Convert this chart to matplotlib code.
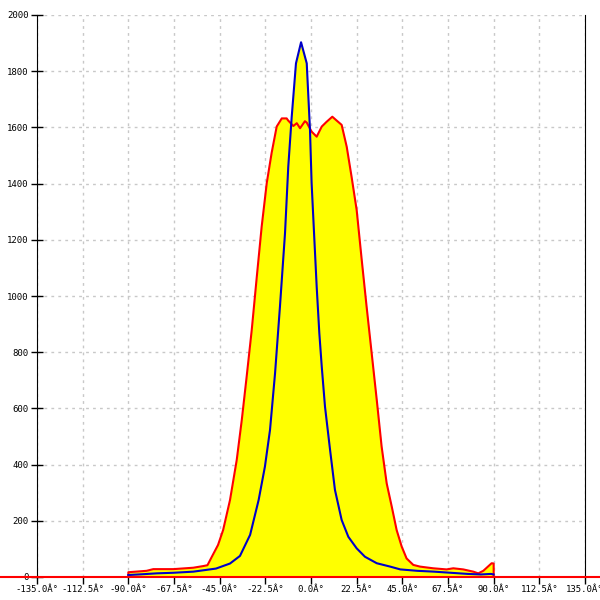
import matplotlib.pyplot as plt

# angle (deg) / count
red_x = [-90, -81, -77.7, -67.8, -58, -53, -51, -49, -45.8, -43.3, -39.9, -36.6, -34.1,
         -31.7, -29.2, -26.7, -24.3, -21.8, -19.4, -16.9, -14.4, -12, -11.3, -8.7, -7,
         -5.4, -3, -2.1, 0.3, 2.8, 5.3, 7.7, 10.5, 12.7, 15.1, 17.6, 20.0, 22.5, 25.0,
         27.4, 29.9, 32.4, 34.8, 37.3, 39.8, 42.2, 44.7, 47.1, 50.4, 53.7, 60.2, 66.8,
         70.1, 75, 80, 82.4, 84.9, 89, 90]
red_y = [17, 22, 28, 28, 33, 39, 42, 70, 114, 167, 274, 416, 559,
         713, 879, 1069, 1247, 1402, 1509, 1603, 1632, 1632, 1625, 1605, 1615,
         1597, 1622, 1617, 1585, 1567, 1603, 1620, 1638, 1624, 1609, 1531, 1424, 1306, 1128,
         962, 796, 630, 464, 333, 250, 167, 108, 66, 43, 37, 31, 27,
         31, 27, 19, 13, 22, 49, 48]

blue_x = [-90, -82.6, -76, -68, -58, -46.8, -39.9, -35, -30, -25.8, -22.7, -20.2, -17.7,
          -15.3, -12.8, -11.2, -9.5, -7.4, -4.9, -2.1, -0.5, 0.3, 1.5, 2.8, 4.1, 5.3,
          6.9, 9.4, 11.8, 15.1, 18.4, 22.5, 26.6, 32.4, 39, 44, 52.4, 60.7, 68.9,
          77.1, 83.7, 88.7, 90]
blue_y = [7, 10, 13, 15, 19, 30, 48, 75, 150, 274, 393, 523, 726,
          962, 1224, 1460, 1638, 1828, 1903, 1828, 1591, 1402, 1224, 1033, 868, 748,
          606, 452, 310, 203, 143, 102, 72, 49, 37, 27, 22, 19, 15,
          11, 9, 11, 9]

x_ticks = [-135 + 22.5 * i for i in range(13)]
x_labels = [f"{t:.1f}Â°" for t in x_ticks]
y_ticks = list(range(0, 2001, 200))

fig = plt.figure(figsize=(6, 6), dpi=100)
ax = fig.add_axes([37 / 600, 23 / 600, 548 / 600, 562 / 600])

ax.fill_between(red_x, red_y, color='#ffff00', linewidth=0, zorder=2)
ax.fill_between(blue_x, blue_y, color='#ffff00', linewidth=0, zorder=2)
# outline of the red series, closing down to the baseline at both ends
ax.plot([red_x[0]] + red_x + [red_x[-1]], [0] + red_y + [0], color='#ff0000', linewidth=1.5, zorder=3)
ax.plot(blue_x, blue_y, color='#0000c8', linewidth=1.5, zorder=4)

# red zero line running across the whole picture
ax.axhline(0, xmin=-0.08, xmax=1.05, color='#ff0000', linewidth=1.5, clip_on=False, zorder=5)

ax.set_xlim(-135, 135)
ax.set_ylim(0, 2000)
ax.set_xticks(x_ticks)
ax.set_xticklabels(x_labels)
ax.set_yticks(y_ticks)
ax.grid(True, color='#c8c8c8', linestyle=(0, (2, 3)), linewidth=1)
ax.set_axisbelow(True)

for t in ax.get_xticklabels() + ax.get_yticklabels():
    t.set_fontfamily('DejaVu Sans Mono')
    t.set_fontsize(6.5)
ax.tick_params(axis='x', direction='out', length=5, width=1, color='black', pad=0.5)
ax.tick_params(axis='y', direction='inout', length=8, width=1, color='black', pad=2)

ax.spines['top'].set_visible(False)
ax.spines['bottom'].set_visible(False)
ax.spines['left'].set_color('black')
ax.spines['right'].set_color('black')

fig.savefig('out.png', dpi=100)
